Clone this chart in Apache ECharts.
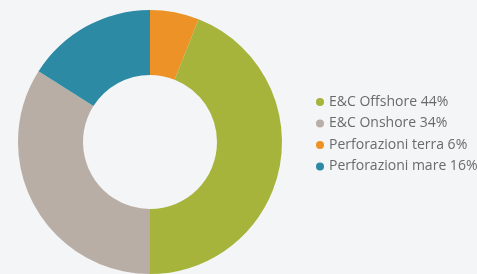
<!DOCTYPE html>
<html>
<head>
<meta charset="utf-8">
<script src="https://cdn.jsdelivr.net/npm/echarts@6/dist/echarts.min.js"></script>
<style>
  html, body { margin: 0; padding: 0; background: #f4f5f6; }
  #chart { width: 477px; height: 274px; }
</style>
</head>
<body>
<div id="chart"></div>
<script>
// settori nell'ordine in cui girano sulla ciambella (da ore 12, senso orario)
const names = ['Perforazioni terra', 'E&C Offshore', 'E&C Onshore', 'Perforazioni mare']
const values = [6, 44, 34, 16]
const colors = ['#ec9226', '#a6b43c', '#b9aea5', '#2c8aa4']
// ordine della legenda
const legendOrder = ['E&C Offshore', 'E&C Onshore', 'Perforazioni terra', 'Perforazioni mare']

const chart = echarts.init(document.getElementById('chart'))

const option = {
  backgroundColor: '#f4f5f6',
  animation: false,
  legend: {
    orient: 'vertical',
    left: 311,
    top: 90,
    data: legendOrder,
    icon: 'circle',
    itemWidth: 8,
    itemHeight: 8,
    itemGap: 7.5,
    formatter: (name) => {
      const i = names.indexOf(name)
      return `${name} ${values[i]}%`
    },
    textStyle: {
      color: '#6a6a6a',
      fontSize: 14,
      lineHeight: 14,
      fontFamily: 'Open Sans'
    }
  },
  series: [
    {
      type: 'pie',
      center: [150, 142],
      radius: [67, 132],
      startAngle: 90,
      clockwise: true,
      label: { show: false },
      labelLine: { show: false },
      emphasis: { disabled: true },
      data: names.map((n, i) => ({
        name: n,
        value: values[i],
        itemStyle: { color: colors[i] }
      }))
    }
  ]
}

chart.setOption(option)
</script>
</body>
</html>
